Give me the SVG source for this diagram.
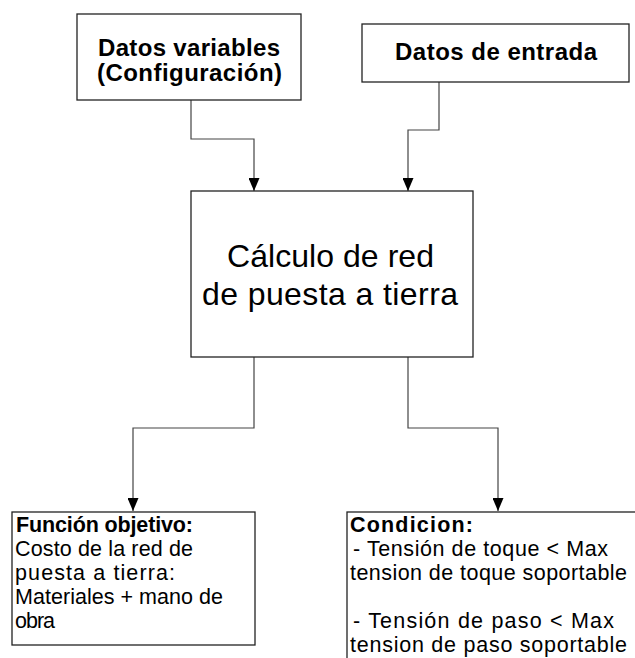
<svg xmlns="http://www.w3.org/2000/svg" width="635" height="658" viewBox="0 0 635 658">
<defs>
<marker id="arr" markerWidth="13" markerHeight="11" refX="13" refY="5.5" orient="auto" markerUnits="userSpaceOnUse" viewBox="0 0 13 11">
<path d="M0,0 L13,5.5 L0,11 Z" fill="#000"/>
</marker>
<style>
.box{fill:#fff;stroke:#222;stroke-width:1.3}
.conn{fill:none;stroke:#444;stroke-width:1.2}
.t{font-family:"Liberation Sans",Arial,sans-serif;fill:#000}
.b{font-weight:bold}
</style>
</defs>
<rect width="635" height="658" fill="#fff"/>
<g id="connectors">
<path class="conn" d="M191,100 V139 H254 V191" marker-end="url(#arr)"/>
<path class="conn" d="M439,82 V130 H408 V191" marker-end="url(#arr)"/>
<path class="conn" d="M254,357 V428 H133 V511" marker-end="url(#arr)"/>
<path class="conn" d="M408,357 V428 H498 V511" marker-end="url(#arr)"/>
</g>
<g id="datos-variables">
<rect class="box" x="77" y="14" width="224" height="86"/>
<text class="t b" font-size="24" x="189" y="56" text-anchor="middle" textLength="182" lengthAdjust="spacing">Datos variables</text>
<text class="t b" font-size="24" x="189.5" y="81" text-anchor="middle" textLength="185" lengthAdjust="spacing">(Configuración)</text>
</g>
<g id="datos-entrada">
<rect class="box" x="362" y="24" width="267" height="58"/>
<text class="t b" font-size="24" x="496" y="60" text-anchor="middle" textLength="202" lengthAdjust="spacing">Datos de entrada</text>
</g>
<g id="calculo">
<rect class="box" x="191" y="191" width="282" height="166"/>
<text class="t" font-size="32" x="330.5" y="267" text-anchor="middle" textLength="207" lengthAdjust="spacing">Cálculo de red</text>
<text class="t" font-size="32" x="330" y="305" text-anchor="middle" textLength="256" lengthAdjust="spacing">de puesta a tierra</text>
</g>
<g id="funcion-objetivo">
<rect class="box" x="12" y="512" width="243" height="133"/>
<text class="t" font-size="21.5">
<tspan class="b" x="16" y="532" textLength="177" lengthAdjust="spacing">Función objetivo:</tspan>
<tspan x="15" y="556" textLength="178" lengthAdjust="spacing">Costo de la red de</tspan>
<tspan x="15" y="580" textLength="160" lengthAdjust="spacing">puesta a tierra:</tspan>
<tspan x="15" y="604" textLength="208" lengthAdjust="spacing">Materiales  + mano de</tspan>
<tspan x="15" y="628" textLength="40" lengthAdjust="spacing">obra</tspan>
</text>
</g>
<g id="condicion">
<rect class="box" x="347" y="512" width="300" height="160"/>
<text class="t" font-size="21.5">
<tspan class="b" x="350" y="532" textLength="123" lengthAdjust="spacing">Condicion:</tspan>
<tspan x="353" y="556" textLength="255" lengthAdjust="spacing">- Tensión de toque &lt; Max</tspan>
<tspan x="350" y="580" textLength="277" lengthAdjust="spacing">tension de toque soportable</tspan>
<tspan x="353" y="628" textLength="261" lengthAdjust="spacing">- Tensión de paso &lt; Max</tspan>
<tspan x="350" y="652" textLength="277" lengthAdjust="spacing">tension de paso soportable</tspan>
</text>
</g>
</svg>
